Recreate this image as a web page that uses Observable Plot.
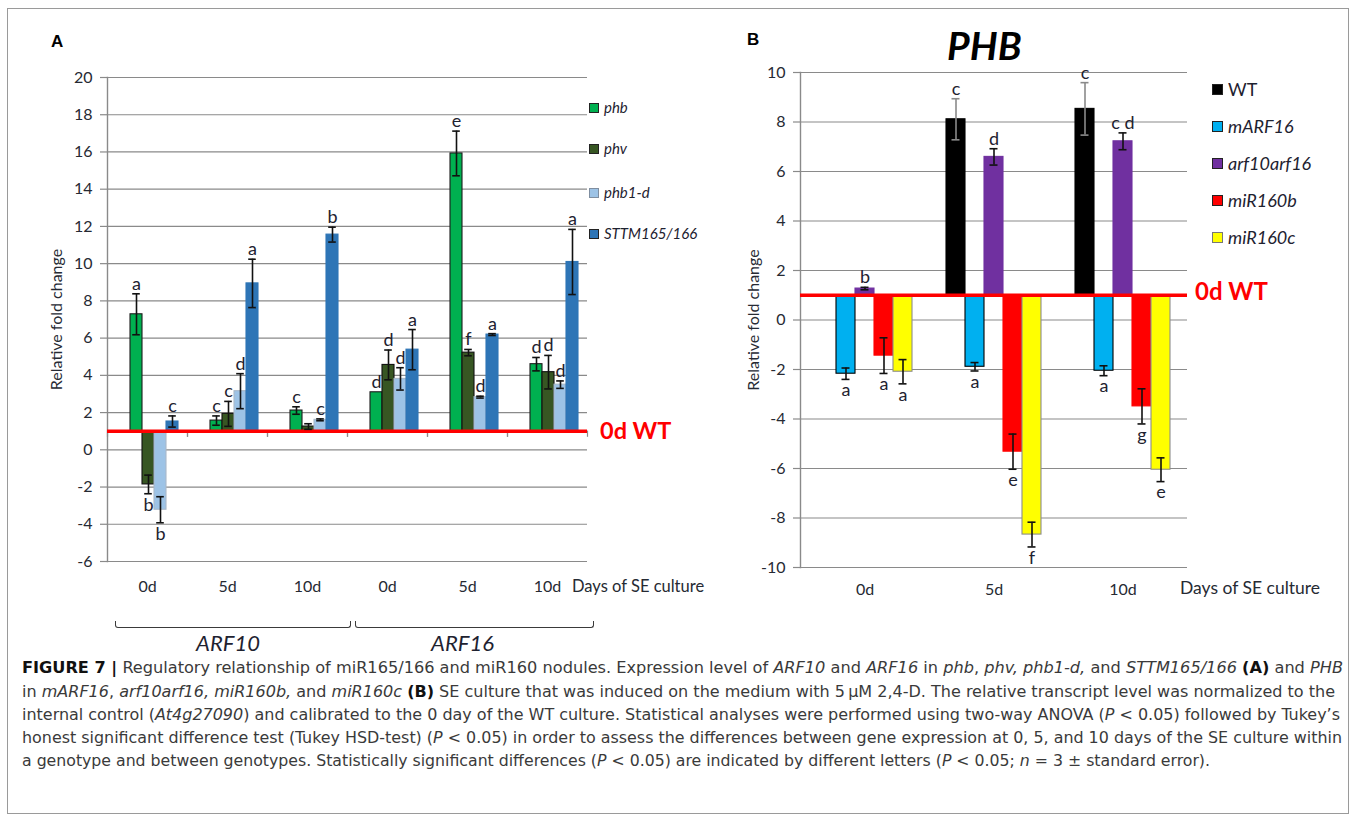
<!DOCTYPE html>
<html><head><meta charset="utf-8">
<script src="https://cdn.jsdelivr.net/npm/d3@7"></script>
<script src="https://cdn.jsdelivr.net/npm/@observablehq/plot@0.6"></script>
<style>
body{margin:0;background:#fff;}
#root{position:relative;width:1357px;height:823px;overflow:hidden;background:#fff;font-family:Lato,"Open Sans",sans-serif;color:#222;}
.abs{position:absolute;white-space:nowrap;line-height:1;}
.box{position:absolute;left:7px;top:8px;width:1342px;height:806px;border:1px solid #9a9a9a;box-sizing:border-box;}
.panel{position:absolute;top:0;}
.lab{font-family:"Liberation Sans",Arial,sans-serif;font-weight:bold;font-size:17px;color:#000;}
.ref{color:#ff0000;font-weight:bold;}
.leg{display:flex;align-items:center;font-style:italic;}
.sw{display:inline-block;box-sizing:border-box;margin-right:5px;}
.brk{position:absolute;border:1.5px solid #3a3a3a;border-top:none;border-radius:0 0 3px 3px;height:6px;}
.cap{position:absolute;left:22px;white-space:nowrap;font-family:"Liberation Sans Narrow","DejaVu Sans Condensed",Roboto,sans-serif;font-size:16px;line-height:20px;color:#3a3a3a;transform-origin:0 50%;}
.cap b{color:#111;}
</style></head><body><div id="root"><div class="box"></div></div>
<script>
// ---------- Panel A data ----------
const genesA = ["ARF10", "ARF16"];
const daysA = ["0d", "5d", "10d"];
const seriesA = ["phb", "phv", "phb1-d", "STTM165/166"];
const colorsA = ["#00b050", "#375623", "#9dc3e6", "#2e75b6"];
const outlinesA = ["#1c1c1c", "#111111", "#a9b8c8", "#2e75b6"];
// rows: ARF10 0d, 5d, 10d, ARF16 0d, 5d, 10d ; columns follow seriesA
const valuesA = [
  [7.28, -1.86, -3.22, 1.52],
  [1.57, 1.93, 3.15, 8.94],
  [2.11, 1.25, 1.61, 11.56],
  [3.09, 4.56, 3.81, 5.38],
  [15.92, 5.22, 2.83, 6.19],
  [4.60, 4.17, 3.50, 10.09]
];
const errorsA = [
  [1.1, 0.5, 0.7, 0.3],
  [0.25, 0.67, 0.94, 1.3],
  [0.2, 0.15, 0.05, 0.4],
  [0, 0.8, 0.6, 1.08],
  [1.2, 0.17, 0.05, 0.05],
  [0.36, 0.9, 0.2, 1.75]
];
const lettersA = [
  ["a", "b", "b", "c"],
  ["c", "c", "d", "a"],
  ["c", "", "c", "b"],
  ["d", "d", "d", "a"],
  ["e", "f", "d", "a"],
  ["d", "d", "d", "a"]
];
const ticksA = [-6, -4, -2, 0, 2, 4, 6, 8, 10, 12, 14, 16, 18, 20];

// ---------- Panel B data ----------
const daysB = ["0d", "5d", "10d"];
const seriesB = ["WT", "mARF16", "arf10arf16", "miR160b", "miR160c"];
const colorsB = ["#000000", "#00b0f0", "#7030a0", "#ff0000", "#ffff00"];
const outlinesB = ["#000000", "#000000", "#7030a0", "#ff0000", "#8c8c8c"];
const valuesB = [
  [1, -2.17, 1.27, -1.44, -2.09],
  [8.11, -1.89, 6.59, -5.32, -8.67],
  [8.53, -2.05, 7.22, -3.49, -6.05]
];
const errorsB = [
  [0, 0.23, 0.05, 0.72, 0.49],
  [0.83, 0.17, 0.33, 0.71, 0.5],
  [1.06, 0.2, 0.34, 0.71, 0.48]
];
const lettersB = [
  ["", "a", "b", "a", "a"],
  ["c", "a", "d", "e", "f"],
  ["c", "a", "c d", "g", "e"]
];
const ticksB = [-10, -8, -6, -4, -2, 0, 2, 4, 6, 8, 10];
const baseline = 1; // 0d WT reference level

// ---------- build rows ----------
const groupsA = genesA.flatMap(g => daysA.map(d => g + " " + d));
const rowsA = [];
groupsA.forEach((g, gi) => seriesA.forEach((s, si) => rowsA.push({
  group: g, series: s, value: valuesA[gi][si], err: errorsA[gi][si], letter: lettersA[gi][si],
  fill: colorsA[si], outline: outlinesA[si]
})));
const rowsB = [];
daysB.forEach((g, gi) => seriesB.forEach((s, si) => rowsB.push({
  group: g, series: s, value: valuesB[gi][si], err: errorsB[gi][si], letter: lettersB[gi][si],
  fill: colorsB[si], outline: outlinesB[si]
})));

const grid = "#8a8a8a";
const txt = "#262a33";

function panel(opts) {
  const {rows, groups, series, ticks, width, height, mL, mR, mT, mB, padOuter, align, capInset, errColor, labelOffset, fxPad, letterSize, boundaryTicks} = opts;
  const ydom = [ticks[0], ticks[ticks.length - 1]];
  const yPix = d3.scaleLinear(ydom, [height - mB, mT]);
  const tickTop = yPix(baseline) - mT;
  const tickBottom = (height - mB) - (yPix(baseline) + 5);
  const errRows = rows.filter(d => d.err > 0);
  const pos = rows.filter(d => d.letter && d.value >= baseline);
  const neg = rows.filter(d => d.letter && d.value < baseline);
  const marks = [
    Plot.gridY(ticks, {stroke: grid, strokeOpacity: 1, strokeWidth: 1.2}),
    Plot.axisY(ticks, {tickSize: 7, tickPadding: 8, stroke: grid, strokeWidth: 1.2, fill: txt, tickFormat: d => String(d),
      label: "Relative fold change", labelAnchor: "center", labelArrow: "none", labelOffset, fontSize: 16}),
    Plot.frame({anchor: "left", facet: "super", stroke: grid, strokeWidth: 1.4})
  ];
  if (boundaryTicks) {
    marks.push(Plot.frame({anchor: "left", insetTop: tickTop, insetBottom: tickBottom, stroke: grid, strokeWidth: 1.2}));
    marks.push(Plot.frame({anchor: "right", insetTop: tickTop, insetBottom: tickBottom, stroke: grid, strokeWidth: 1.2}));
  }
  marks.push(
    Plot.barY(rows, {fx: "group", x: "series", y1: baseline, y2: "value", fill: "fill", stroke: "outline", strokeWidth: 1.1}),
    Plot.ruleY([baseline], {stroke: "#ff0000", strokeWidth: 3.5}),
    Plot.ruleX(errRows, {fx: "group", x: "series", y1: d => d.value - d.err, y2: d => d.value + d.err, stroke: d => errColor(d), strokeWidth: 1.6}),
    Plot.tickY(errRows, {fx: "group", x: "series", y: d => d.value + d.err, stroke: d => errColor(d), strokeWidth: 1.6, insetLeft: capInset, insetRight: capInset}),
    Plot.tickY(errRows, {fx: "group", x: "series", y: d => d.value - d.err, stroke: d => errColor(d), strokeWidth: 1.6, insetLeft: capInset, insetRight: capInset}),
    Plot.text(pos, {fx: "group", x: "series", y: d => d.value + d.err, text: "letter", lineAnchor: "bottom", dy: -4, fontSize: letterSize, fill: "#1e2230"}),
    Plot.text(neg, {fx: "group", x: "series", y: d => d.value - d.err, text: "letter", lineAnchor: "top", dy: 4, fontSize: letterSize, fill: "#1e2230"}),
    Plot.axisFx({anchor: "bottom", tickSize: 0, tickPadding: fxPad, label: null, fill: txt, fontSize: 16,
      tickFormat: d => d.split(" ").pop()})
  );
  return Plot.plot({
    width, height, marginLeft: mL, marginRight: mR, marginTop: mT, marginBottom: mB,
    style: {fontFamily: "Lato, 'Open Sans', sans-serif", fontSize: "16px", color: txt, background: "transparent", overflow: "visible"},
    fx: {domain: groups, padding: 0},
    x: {domain: series, paddingInner: 0, paddingOuter: padOuter, align, axis: null},
    y: {domain: ydom, axis: null},
    color: {type: "identity"},
    marks
  });
}

const root = document.getElementById("root");

const svgA = panel({rows: rowsA, groups: groupsA, series: seriesA, ticks: ticksA, width: 730, height: 650,
  mL: 107, mR: 143, mT: 77, mB: 89, padOuter: 1.333, align: 0.72, capInset: 2.2, errColor: () => "#111",
  labelOffset: 57, fxPad: 19, letterSize: 18, boundaryTicks: true});
const wa = document.createElement("div"); wa.className = "panel"; wa.style.left = "0px"; wa.appendChild(svgA); root.appendChild(wa);

const svgB = panel({rows: rowsB, groups: daysB, series: seriesB, ticks: ticksB, width: 627, height: 650,
  mL: 70, mR: 170, mT: 72, mB: 83, padOuter: 0.79, align: 0.5, capInset: 5.5,
  errColor: d => d.series === "WT" ? "#8a8a8a" : "#111",
  labelOffset: 53, fxPad: 16, letterSize: 18, boundaryTicks: false});
const wb = document.createElement("div"); wb.className = "panel"; wb.style.left = "730px"; wb.appendChild(svgB); root.appendChild(wb);

function add(html, css, cls) {
  const el = document.createElement("div");
  el.className = "abs " + (cls || "");
  el.innerHTML = html;
  Object.assign(el.style, css);
  root.appendChild(el);
  return el;
}
// panel letters and titles
add("A", {left: "51px", top: "33px"}, "lab");
add("B", {left: "747px", top: "31px"}, "lab");
add("PHB", {left: "947px", top: "26px", fontSize: "39px", fontWeight: "bold", fontStyle: "italic", color: "#000"});
// reference labels
add("0d WT", {left: "600px", top: "419px", fontSize: "23.5px"}, "ref");
add("0d WT", {left: "1195px", top: "279px", fontSize: "24px"}, "ref");
// x titles
add("Days of SE culture", {left: "572px", top: "578px", fontSize: "16.5px", color: txt});
add("Days of SE culture", {left: "1180px", top: "579px", fontSize: "17.5px", color: txt});
// brackets and gene labels
const brk1 = document.createElement("div"); brk1.className = "brk"; Object.assign(brk1.style, {left: "115px", top: "621px", width: "234px"}); root.appendChild(brk1);
const brk2 = document.createElement("div"); brk2.className = "brk"; Object.assign(brk2.style, {left: "355px", top: "621px", width: "237px"}); root.appendChild(brk2);
add(genesA[0], {left: "196px", top: "632px", fontSize: "22px", fontStyle: "italic", color: "#1e2230"});
add(genesA[1], {left: "431px", top: "632px", fontSize: "22px", fontStyle: "italic", color: "#1e2230"});

// legends
const legA = [108, 149, 193, 234];
seriesA.forEach((s, i) => {
  add(`<span class="sw" style="width:10px;height:10px;background:${colorsA[i]};border:1.5px solid ${i === 2 ? '#7f8ea0' : '#222'}"></span>${s}`,
    {left: "589px", top: (legA[i] - 8) + "px", fontSize: "15px", color: "#1e2230"}, "leg");
});
const legB = [89, 126, 163, 200, 237];
seriesB.forEach((s, i) => {
  add(`<span class="sw" style="width:11px;height:11px;background:${colorsB[i]};border:1.5px solid ${i === 4 ? '#777' : '#222'}"></span>${s}`,
    {left: "1212px", top: (legB[i] - 9) + "px", fontSize: "18px", color: "#1e2230", fontStyle: i === 0 ? "normal" : "italic"}, "leg");
});

// caption
const capLines = [
  "<b>FIGURE 7 |</b> Regulatory relationship of miR165/166 and miR160 nodules. Expression level of <i>ARF10</i> and <i>ARF16</i> in <i>phb</i>, <i>phv, phb1-d,</i> and <i>STTM165/166</i> <b>(A)</b> and <i>PHB</i>",
  "in <i>mARF16</i>, <i>arf10arf16, miR160b,</i> and <i>miR160c</i> <b>(B)</b> SE culture that was induced on the medium with 5\u202fμM 2,4-D. The relative transcript level was normalized to the",
  "internal control (<i>At4g27090</i>) and calibrated to the 0 day of the WT culture. Statistical analyses were performed using two-way ANOVA (<i>P</i> &lt; 0.05) followed by Tukey’s",
  "honest significant difference test (Tukey HSD-test) (<i>P</i> &lt; 0.05) in order to assess the differences between gene expression at 0, 5, and 10 days of the SE culture within",
  "a genotype and between genotypes. Statistically significant differences (<i>P</i> &lt; 0.05) are indicated by different letters (<i>P</i> &lt; 0.05; <i>n</i> = 3 ± standard error)."
];
const capCenters = [668, 692, 715, 738, 761];
const capWidths = [1321, 1313, 1318, 1320, 1188];
const capEls = capLines.map((h, i) => {
  const el = document.createElement("div");
  el.className = "cap";
  el.innerHTML = h;
  el.style.top = (capCenters[i] - 10) + "px";
  root.appendChild(el);
  return el;
});
function fitCaption() {
  capEls.forEach((el, i) => {
    el.style.transform = "none";
    const w = el.getBoundingClientRect().width;
    el.style.transform = `scaleX(${capWidths[i] / w})`;
  });
}
fitCaption();
if (document.fonts && document.fonts.ready) document.fonts.ready.then(fitCaption);
</script></body></html>
